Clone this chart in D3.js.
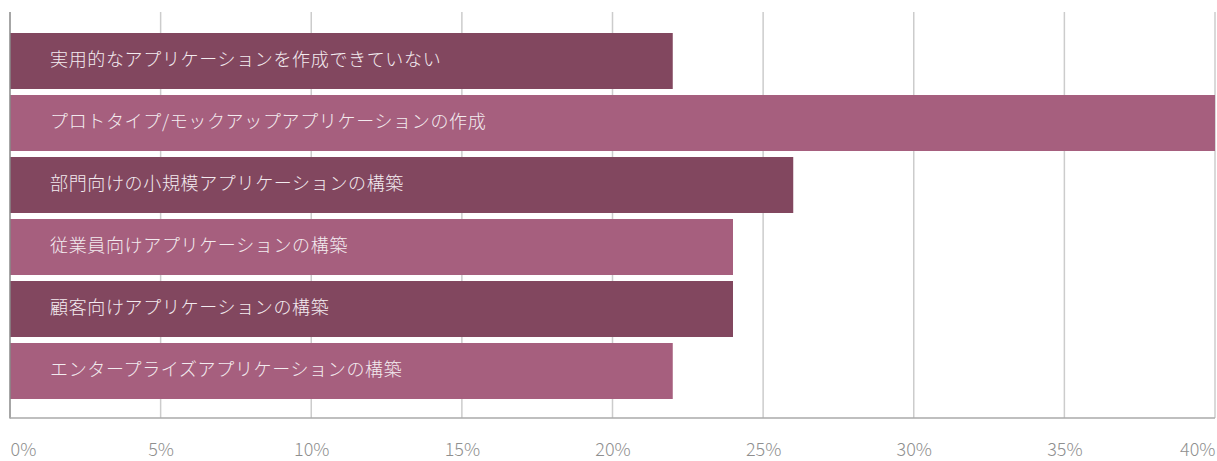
<!DOCTYPE html>
<html>
<head>
<meta charset="utf-8">
<script src="https://cdn.jsdelivr.net/npm/d3@7"></script>
<style>
  html, body { margin: 0; padding: 0; background: #fff; }
  svg { display: block; }
</style>
</head>
<body>
<svg id="chart" width="1217" height="461"></svg>
<script>
// Share of respondents by activity (%)
const categories = [
  "実用的なアプリケーションを作成できていない",
  "プロトタイプ/モックアップアプリケーションの作成",
  "部門向けの小規模アプリケーションの構築",
  "従業員向けアプリケーションの構築",
  "顧客向けアプリケーションの構築",
  "エンタープライズアプリケーションの構築"
];
const values = [22, 40, 26, 24, 24, 22];
const tickValues = [0, 5, 10, 15, 20, 25, 30, 35, 40];
const barColors = ["#82475f", "#a65f7e"];

const svg = d3.select("#chart");
const plotLeft = 10, plotRight = 1215, plotTop = 12, plotBottom = 418;

const x = d3.scaleLinear().domain([0, 40]).range([plotLeft, plotRight]);
const y = d3.scaleBand().domain(categories).range([30, 402])
  .paddingInner(6 / 62).paddingOuter(3 / 62);

// vertical gridlines
svg.append("g").selectAll("line")
  .data(tickValues.filter(d => d > 0))
  .join("line")
  .attr("x1", d => x(d)).attr("x2", d => x(d))
  .attr("y1", plotTop).attr("y2", plotBottom)
  .attr("stroke", "#cccccc").attr("stroke-width", 1.5);

// bars
svg.append("g").selectAll("rect")
  .data(categories)
  .join("rect")
  .attr("x", x(0))
  .attr("y", d => y(d))
  .attr("width", (d, i) => x(values[i]) - x(0))
  .attr("height", y.bandwidth())
  .attr("fill", (d, i) => barColors[i % 2]);

// category labels inside bars
svg.append("g").selectAll("text")
  .data(categories)
  .join("text")
  .attr("x", x(0) + 40)
  .attr("y", d => y(d) + y.bandwidth() / 2 - 1)
  .attr("dy", "0.35em")
  .attr("fill", "#f3ebef")
  .attr("font-family", "'Noto Sans CJK JP', sans-serif")
  .attr("font-weight", 300)
  .attr("font-size", 18)
  .attr("letter-spacing", "0.65px")
  .text(d => d);

// axis lines
svg.append("line")
  .attr("x1", plotLeft).attr("x2", plotLeft).attr("y1", plotTop).attr("y2", plotBottom + 0.5)
  .attr("stroke", "#888").attr("stroke-width", 1.5);
svg.append("line")
  .attr("x1", plotLeft).attr("x2", plotRight).attr("y1", plotBottom).attr("y2", plotBottom)
  .attr("stroke", "#aaa").attr("stroke-width", 1.5);

// tick labels
const axis = d3.axisBottom(x).tickValues(tickValues).tickSize(0).tickFormat(d => d + "%");
const gAxis = svg.append("g").attr("transform", `translate(0,${plotBottom})`).call(axis);
gAxis.select(".domain").remove();
gAxis.selectAll("text")
  .attr("y", 0)
  .attr("dy", 0)
  .attr("transform", "translate(0,38)")
  .attr("fill", "#8f8f8f")
  .attr("font-family", "'Noto Sans CJK JP', sans-serif")
  .attr("font-weight", 300)
  .attr("font-size", 18)
  .attr("text-anchor", (d, i) => i === 0 ? "start" : (i === tickValues.length - 1 ? "end" : "middle"));
</script>
</body>
</html>
